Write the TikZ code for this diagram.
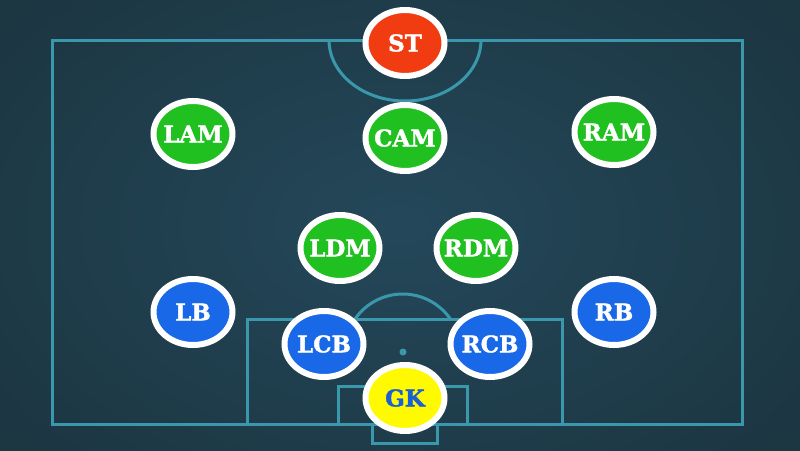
\documentclass[tikz,border=0pt]{standalone}
\usepackage{fontspec}
\setmainfont{DejaVu Serif}
\newfontfamily\slab[FakeBold=1.6]{DejaVu Serif Bold}
\usetikzlibrary{shapes.geometric}
\definecolor{bgin}{HTML}{24485A}
\definecolor{bgout}{HTML}{1C3642}
\definecolor{fieldline}{HTML}{3A98AC}
\definecolor{pgreen}{HTML}{1FC01F}
\definecolor{pblue}{HTML}{1868E8}
\definecolor{pred}{HTML}{F03C10}
\definecolor{pyellow}{HTML}{FFFA00}
\definecolor{gktext}{HTML}{1B5FD3}
\newcommand{\ptext}[1]{\makebox[0pt]{#1}}
\tikzset{
  player/.style={ellipse, draw=white, line width=6pt, minimum width=79pt, minimum height=66pt, inner sep=0pt,
    font=\fontsize{23}{23}\selectfont\slab, text=white},
  mid/.style={player, fill=pgreen},
  def/.style={player, fill=pblue},
  fwd/.style={player, fill=pred},
  keeper/.style={player, fill=pyellow, text=gktext},
  pitch/.style={draw=fieldline, line width=3pt}
}
\begin{document}
\begin{tikzpicture}[x=1pt,y=-1pt]
\useasboundingbox (0,0) rectangle (800,450);
\shade[inner color=bgin, outer color=bgout] (-100,-100) rectangle (900,550);
% pitch
\draw[pitch] (52,40) rectangle (742,424);
\draw[pitch] (247,424) -- (247,319) -- (562,319) -- (562,424);
\draw[pitch] (338,424) -- (338,386) -- (467,386) -- (467,424);
\draw[pitch] (372,424) -- (372,443) -- (437,443) -- (437,424);
\draw[pitch] (329,40) arc[start angle=180, end angle=360, x radius=76, y radius=-61];
\draw[pitch] (355,319) arc[start angle={180+asin(33/58)}, end angle={360-asin(33/58)}, radius=58];
\fill[fieldline] (403,352) circle (3.5pt);
% players
\node[fwd] (ST) at (405,43) {\ptext{ST}};
\node[mid] (LAM) at (193,134) {\ptext{LAM}};
\node[mid] (CAM) at (405,138) {\ptext{CAM}};
\node[mid] (RAM) at (614,132) {\ptext{RAM}};
\node[mid] (LDM) at (340,248) {\ptext{LDM}};
\node[mid] (RDM) at (476,248) {\ptext{RDM}};
\node[def] (LB) at (193,312) {\ptext{LB}};
\node[def] (RB) at (614,312) {\ptext{RB}};
\node[def] (LCB) at (324,344) {\ptext{LCB}};
\node[def] (RCB) at (490,344) {\ptext{RCB}};
\node[keeper] (GK) at (405,398) {\ptext{GK}};
\end{tikzpicture}
\end{document}
